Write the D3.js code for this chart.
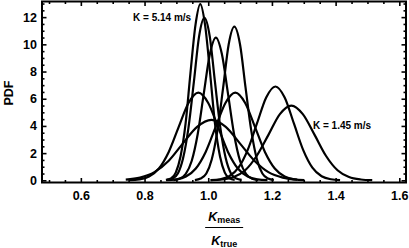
<!DOCTYPE html>
<html>
<head>
<meta charset="utf-8">
<script src="https://cdn.jsdelivr.net/npm/d3@7"></script>
<style>
  body { margin: 0; background: #fff; }
  svg { display: block; font-family: "Liberation Sans", Arial, sans-serif; }
</style>
</head>
<body>
<svg id="chart"></svg>
<script>
// PDF curves of Kmeas/Ktrue
const curve1X = [0.867, 0.883, 0.898, 0.913, 0.929, 0.944, 0.960, 0.975, 0.990, 1.006, 1.021, 1.037, 1.052, 1.067, 1.083];
const curve1Y = [0.03, 0.14, 0.57, 1.75, 4.20, 7.85, 11.43, 12.95, 11.43, 7.85, 4.20, 1.75, 0.57, 0.14, 0.03];

const curve2X = [0.871, 0.888, 0.905, 0.921, 0.938, 0.955, 0.971, 0.988, 1.005, 1.021, 1.038, 1.055, 1.071, 1.088, 1.105];
const curve2Y = [0.03, 0.13, 0.52, 1.62, 3.88, 7.25, 10.55, 11.95, 10.55, 7.25, 3.88, 1.62, 0.52, 0.13, 0.03];

const curve3X = [0.891, 0.910, 0.929, 0.948, 0.967, 0.986, 1.005, 1.024, 1.043, 1.062, 1.081, 1.100, 1.119, 1.138, 1.157];
const curve3Y = [0.02, 0.12, 0.46, 1.42, 3.41, 6.37, 9.27, 10.5, 9.27, 6.37, 3.41, 1.42, 0.46, 0.12, 0.02];

const curve4X = [0.958, 0.976, 0.994, 1.011, 1.029, 1.047, 1.064, 1.082, 1.100, 1.117, 1.135, 1.153, 1.170, 1.188, 1.206];
const curve4Y = [0.02, 0.13, 0.50, 1.53, 3.67, 6.85, 9.97, 11.3, 9.97, 6.85, 3.67, 1.53, 0.50, 0.13, 0.02];

const curve5X = [0.752, 0.783, 0.814, 0.845, 0.876, 0.907, 0.938, 0.969, 1.000, 1.031, 1.062, 1.093, 1.124, 1.155, 1.186];
const curve5Y = [0.01, 0.07, 0.28, 0.87, 2.09, 3.91, 5.69, 6.45, 5.69, 3.91, 2.09, 0.87, 0.28, 0.07, 0.01];

const curve6X = [0.868, 0.899, 0.930, 0.961, 0.992, 1.023, 1.054, 1.085, 1.116, 1.147, 1.178, 1.209, 1.240, 1.271, 1.302];
const curve6Y = [0.01, 0.07, 0.28, 0.87, 2.09, 3.91, 5.69, 6.45, 5.69, 3.91, 2.09, 0.87, 0.28, 0.07, 0.01];

const curve7X = [0.741, 0.786, 0.831, 0.876, 0.920, 0.965, 1.010, 1.055, 1.100, 1.145, 1.189, 1.234, 1.279];
const curve7Y = [0.05, 0.20, 0.60, 1.44, 2.70, 3.93, 4.45, 3.93, 2.70, 1.44, 0.60, 0.20, 0.05];

const curve8X = [1.008, 1.037, 1.066, 1.095, 1.124, 1.153, 1.182, 1.211, 1.240, 1.269, 1.298, 1.327, 1.356, 1.385, 1.414];
const curve8Y = [0.02, 0.08, 0.30, 0.93, 2.24, 4.18, 6.09, 6.9, 6.09, 4.18, 2.24, 0.93, 0.30, 0.08, 0.02];

const curve9X = [1.007, 1.044, 1.080, 1.116, 1.152, 1.189, 1.225, 1.261, 1.297, 1.334, 1.370, 1.406, 1.442, 1.479, 1.515];
const curve9Y = [0.01, 0.06, 0.24, 0.74, 1.79, 3.34, 4.87, 5.5, 4.87, 3.34, 1.79, 0.74, 0.24, 0.06, 0.01];

const xMajorTicks = [0.6, 0.8, 1.0, 1.2, 1.4, 1.6];
const yMajorTicks = [0, 2, 4, 6, 8, 10, 12];

const annotationText = ["K = 5.14 m/s", "K = 1.45 m/s"];
const annotationX = [0.764, 1.329];
const annotationY = [11.75, 3.77];

const W = 409, H = 248;
const margin = { top: 1.5, right: 3, bottom: 65.5, left: 42 };
const plotW = W - margin.left - margin.right;
const plotH = H - margin.top - margin.bottom;

const svg = d3.select("#chart").attr("width", W).attr("height", H);

const x = d3.scaleLinear().domain([0.478, 1.621]).range([0, plotW]);
const y = d3.scaleLinear().domain([-0.16, 13.15]).range([plotH, 0]);

const g = svg.append("g").attr("transform", `translate(${margin.left},${margin.top})`);

// build the curve list
const xsAll = [curve1X, curve2X, curve3X, curve4X, curve5X, curve6X, curve7X, curve8X, curve9X];
const ysAll = [curve1Y, curve2Y, curve3Y, curve4Y, curve5Y, curve6Y, curve7Y, curve8Y, curve9Y];
const curves = xsAll.map((xs, i) => xs.map((v, j) => ({ x: v, y: ysAll[i][j] })));

const line = d3.line()
  .x(d => x(d.x))
  .y(d => y(d.y))
  .curve(d3.curveMonotoneX);

g.append("g").selectAll("path")
  .data(curves)
  .join("path")
  .attr("d", line)
  .attr("fill", "none")
  .attr("stroke", "#000")
  .attr("stroke-width", 2.2)
  .attr("stroke-linejoin", "round");

// minor tick values
const xMinor = d3.range(0.5, 1.62, 0.05).map(v => +v.toFixed(2)).filter(v => !xMajorTicks.includes(v));
const yMinor = d3.range(0, 13.1, 0.5).filter(v => !yMajorTicks.includes(v));

function styleAxis(sel) {
  sel.select(".domain").remove();
  sel.selectAll(".tick line").attr("stroke", "#000").attr("stroke-width", 1.6);
  sel.selectAll("text")
    .attr("fill", "#000")
    .style("font-size", "12.5px")
    .style("font-weight", "bold");
}

// bottom
g.append("g").attr("transform", `translate(0,${plotH})`)
  .call(d3.axisBottom(x).tickValues(xMajorTicks).tickSizeInner(-4.5).tickSizeOuter(0)
    .tickPadding(9).tickFormat(d3.format(".1f")))
  .call(styleAxis);
g.append("g").attr("transform", `translate(0,${plotH})`)
  .call(d3.axisBottom(x).tickValues(xMinor).tickSizeInner(-2.5).tickSizeOuter(0).tickFormat(""))
  .call(styleAxis);
// top
g.append("g")
  .call(d3.axisTop(x).tickValues(xMajorTicks).tickSizeInner(-4.5).tickSizeOuter(0).tickFormat(""))
  .call(styleAxis);
g.append("g")
  .call(d3.axisTop(x).tickValues(xMinor).tickSizeInner(-2.5).tickSizeOuter(0).tickFormat(""))
  .call(styleAxis);
// left
g.append("g")
  .call(d3.axisLeft(y).tickValues(yMajorTicks).tickSizeInner(-4.5).tickSizeOuter(0).tickPadding(5))
  .call(styleAxis);
g.append("g")
  .call(d3.axisLeft(y).tickValues(yMinor).tickSizeInner(-2.5).tickSizeOuter(0).tickFormat(""))
  .call(styleAxis);
// right
g.append("g").attr("transform", `translate(${plotW},0)`)
  .call(d3.axisRight(y).tickValues(yMajorTicks).tickSizeInner(-4.5).tickSizeOuter(0).tickFormat(""))
  .call(styleAxis);
g.append("g").attr("transform", `translate(${plotW},0)`)
  .call(d3.axisRight(y).tickValues(yMinor).tickSizeInner(-2.5).tickSizeOuter(0).tickFormat(""))
  .call(styleAxis);

// frame
g.append("rect")
  .attr("width", plotW).attr("height", plotH)
  .attr("fill", "none").attr("stroke", "#000").attr("stroke-width", 2);

// annotations
g.selectAll("text.note")
  .data(annotationText)
  .join("text")
  .attr("class", "note")
  .attr("x", (d, i) => x(annotationX[i]))
  .attr("y", (d, i) => y(annotationY[i]))
  .style("font-size", "10px")
  .style("font-weight", "bold")
  .text(d => d);

// y title
svg.append("text")
  .attr("transform", "translate(12.5,93) rotate(-90)")
  .attr("text-anchor", "middle")
  .style("font-size", "12.5px")
  .style("font-weight", "bold")
  .text("PDF");

// x title as fraction
const cx = margin.left + x(1.05);
const num = svg.append("text").attr("x", cx).attr("y", 220.5).attr("text-anchor", "middle")
  .style("font-weight", "bold");
num.append("tspan").style("font-style", "italic").style("font-size", "12.5px").text("K");
num.append("tspan").style("font-size", "9px").attr("dy", 2.5).text("meas");

svg.append("line")
  .attr("x1", cx - 19).attr("x2", cx + 19)
  .attr("y1", 227.5).attr("y2", 227.5)
  .attr("stroke", "#000").attr("stroke-width", 1);

const den = svg.append("text").attr("x", cx).attr("y", 244.5).attr("text-anchor", "middle")
  .style("font-weight", "bold");
den.append("tspan").style("font-style", "italic").style("font-size", "12.5px").text("K");
den.append("tspan").style("font-size", "9px").attr("dy", 2.5).text("true");
</script>
</body>
</html>
